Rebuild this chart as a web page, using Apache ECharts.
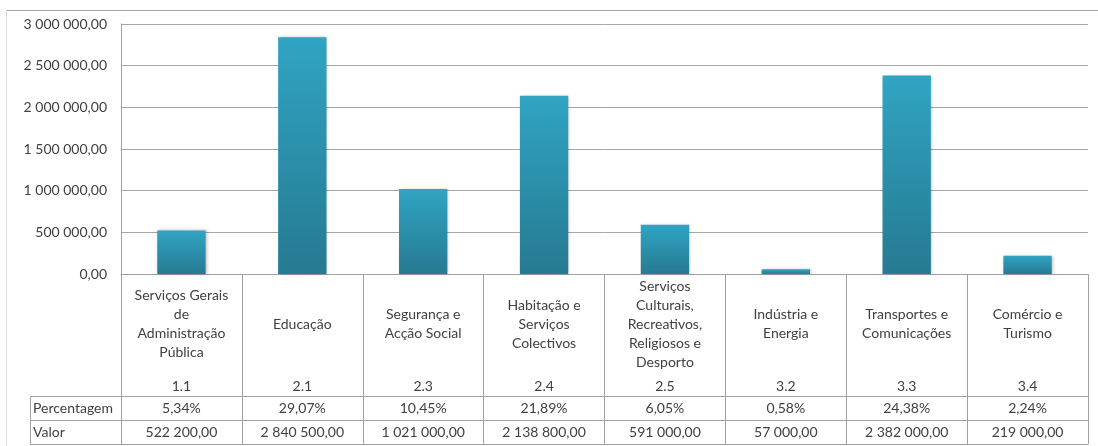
<!DOCTYPE html>
<html><head><meta charset="utf-8">
<script src="https://cdn.jsdelivr.net/npm/echarts@6/dist/echarts.min.js"></script>
<style>html,body{margin:0;padding:0;background:#fff}#c{width:1098px;height:446px}</style>
</head><body><div id="c"></div>
<script>
const categories = ['Serviços Gerais\nde\nAdministração\nPública','Educação','Segurança e\nAcção Social','Habitação e\nServiços\nColectivos','Serviços\nCulturais,\nRecreativos,\nReligiosos e\nDesporto','Indústria e\nEnergia','Transportes e\nComunicações','Comércio e\nTurismo'];
const codes = ['1.1','2.1','2.3','2.4','2.5','3.2','3.3','3.4'];
const values = [522200, 2840500, 1021000, 2138800, 591000, 57000, 2382000, 219000];
const percentages = ['5,34%','29,07%','10,45%','21,89%','6,05%','0,58%','24,38%','2,24%'];
const valueLabels = ['522 200,00','2 840 500,00','1 021 000,00','2 138 800,00','591 000,00','57 000,00','2 382 000,00','219 000,00'];
const rowHeaders = ['Percentagem','Valor'];

const FONT = 'Lato, sans-serif';
const TXT = '#404040';
const LINE = '#a0a0a0';
function fmt(v){
  const s = Math.round(v).toString().replace(/\B(?=(\d{3})+(?!\d))/g,' ');
  return s + ',00';
}
const chart = echarts.init(document.getElementById('c'), null, {renderer:'canvas'});
const baseLabel = {fontFamily: FONT, fontSize: 14, color: TXT, interval: 0};
chart.setOption({
  animation: false,
  grid: {left: 121, right: 10, top: 24, bottom: 172, containLabel: false},
  yAxis: {
    type: 'value', min: 0, max: 3000000, interval: 500000,
    axisLine: {show: true, lineStyle: {color: LINE}},
    axisTick: {show: false},
    splitLine: {lineStyle: {color: '#a6a6a6'}},
    axisLabel: {fontFamily: FONT, fontSize: 14, color: TXT, margin: 14, formatter: fmt}
  },
  xAxis: [
    {type: 'category', data: categories, boundaryGap: true, position: 'bottom',
     axisLine: {show: true, lineStyle: {color: LINE}},
     axisTick: {show: true, length: 122, interval: 0, lineStyle: {color: LINE}},
     axisLabel: Object.assign({}, baseLabel, {margin: 50, verticalAlign: 'middle', lineHeight: 19, align: 'center'})},
    {type: 'category', data: codes, boundaryGap: true, position: 'bottom',
     axisLine: {show: false}, axisTick: {show: false},
     axisLabel: Object.assign({}, baseLabel, {margin: 112, verticalAlign: 'middle'})},
    {type: 'category', data: percentages, boundaryGap: true, position: 'bottom', offset: 122,
     axisLine: {show: true, lineStyle: {color: LINE}},
     axisTick: {show: true, length: 24, interval: 0, lineStyle: {color: LINE}},
     axisLabel: Object.assign({}, baseLabel, {margin: 12, verticalAlign: 'middle'})},
    {type: 'category', data: valueLabels, boundaryGap: true, position: 'bottom', offset: 146,
     axisLine: {show: true, lineStyle: {color: LINE}},
     axisTick: {show: true, length: 24, interval: 0, lineStyle: {color: LINE}},
     axisLabel: Object.assign({}, baseLabel, {margin: 12, verticalAlign: 'middle'})},
    {type: 'category', data: codes, boundaryGap: true, position: 'bottom', offset: 170,
     axisLine: {show: true, lineStyle: {color: LINE}},
     axisTick: {show: false}, axisLabel: {show: false}}
  ],
  series: [{
    type: 'bar', data: values, xAxisIndex: 0, barWidth: '40%',
    itemStyle: {
      color: new echarts.graphic.LinearGradient(0,0,0,1,[{offset:0,color:'#30a4c3'},{offset:1,color:'#267a91'}]),
      shadowBlur: 3, shadowColor: 'rgba(0,0,0,0.25)', shadowOffsetX: 1, shadowOffsetY: 0
    }
  }],
  graphic: [
    {type: 'line', shape: {x1: 6, y1: 10.5, x2: 1098, y2: 10.5}, style: {stroke: '#a6a6a6', lineWidth: 1}},
    {type: 'line', shape: {x1: 6.5, y1: 10, x2: 6.5, y2: 446}, style: {stroke: '#d9d9d9', lineWidth: 1}},
    {type: 'rect', shape: {x: 30.5, y: 396.5, width: 91, height: 24}, style: {fill: 'none', stroke: LINE, lineWidth: 1}},
    {type: 'rect', shape: {x: 30.5, y: 420.5, width: 91, height: 24}, style: {fill: 'none', stroke: LINE, lineWidth: 1}},
    {type: 'text', left: 33, top: 401, style: {text: rowHeaders[0], font: '14px ' + FONT, fill: TXT}},
    {type: 'text', left: 33, top: 425, style: {text: rowHeaders[1], font: '14px ' + FONT, fill: TXT}}
  ]
});
</script></body></html>
